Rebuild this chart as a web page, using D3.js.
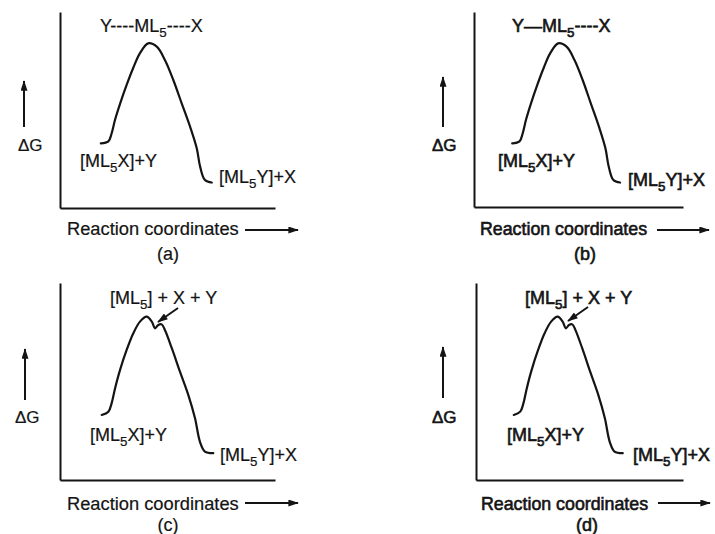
<!DOCTYPE html>
<html><head><meta charset="utf-8">
<script src="https://cdn.jsdelivr.net/npm/d3@7"></script>
<style>body{margin:0;background:#fff}svg{display:block}</style>
</head><body><svg id="chart" width="715" height="534"></svg>
<script>
// ---- data (reaction coordinate 0-100, free energy 0-100) ----
const concertedCoord  = [19, 22.5, 24, 25.6, 28, 31, 34, 37.2, 41, 45, 48.8, 52.7, 56.6, 60.5, 63.6, 65.2, 67.4, 70.6];
const concertedEnergy = [33, 34, 38, 45, 53.4, 62.8, 71.3, 79, 84, 82.3, 75.5, 65.3, 53.4, 41.5, 30.5, 21, 14.3, 13];
const stepwiseCoord   = [19.4, 22.5, 24, 25.6, 27.9, 31, 34.1, 37.2, 40.3, 42.7, 44.2, 45.7, 47.3, 48.8, 52, 55.8, 59.7, 62.8, 65.1, 67.4, 71.3];
const stepwiseEnergy  = [33, 34.7, 38.9, 46.5, 55.8, 66, 74.5, 80.4, 82.9, 80.4, 77, 78.7, 79, 76.1, 66.9, 55, 43.1, 31.3, 19.4, 14.4, 13.6];
const peakLabels      = ["Y----ML_5----X", "Y\u2014ML_5----X", "[ML_5] + X + Y", "[ML_5] + X + Y"];
const reactantLabel   = "[ML_5X]+Y";
const productLabel    = "[ML_5Y]+X";
const yAxisLabel      = "\u0394G";
const xAxisLabel      = "Reaction coordinates";
const panelTags       = ["(a)", "(b)", "(c)", "(d)"];
const curveTypes      = ["concerted", "concerted", "stepwise", "stepwise"];

// ---- layout ----
const layout = [
  {ax:60, ay:208, top:12, right:275, cx:[60,275], cy:[208,12], bold:false,
   peak:[100,32], react:[80,167], prod:[219,183], dg:[18,151], up:[24,127,81],
   rc:[67,235], arr:[245,298,230], tag:[168,260], ptr:null},
  {ax:474, ay:207, top:12, right:683, cx:[472.5,681.5], cy:[208,12], bold:true,
   peak:[512,32], react:[498,167], prod:[628,186], dg:[432,151], up:[443,127,77],
   rc:[480,235], arr:[657,709,230], tag:[585,260], ptr:null},
  {ax:60, ay:480, top:283, right:275, cx:[60,275], cy:[480,283], bold:false,
   peak:[110,304], react:[90,441], prod:[220,461], dg:[15,423], up:[25,400,349],
   rc:[67,510], arr:[245,298,503], tag:[168,531], ptr:[178,308,158,322]},
  {ax:476, ay:480, top:283, right:683, cx:[473,683], cy:[480,283], bold:true,
   peak:[525,304], react:[507,441], prod:[633,461], dg:[432,423], up:[443,398,347],
   rc:[481,510], arr:[658,710,503], tag:[587,531], ptr:[588,307,568,321]}
];

const ink = "#141414";
const svg = d3.select("#chart");
const defs = svg.append("defs");
defs.append("marker").attr("id","ah").attr("viewBox","0 0 12 8")
  .attr("refX",11).attr("refY",4).attr("markerWidth",12).attr("markerHeight",7)
  .attr("markerUnits","userSpaceOnUse").attr("orient","auto")
  .append("path").attr("d","M0,0 L12,4 L0,8 Z").attr("fill",ink);

function richText(sel, str, size){
  const parts = str.split("_5");
  parts.forEach((p,i)=>{
    if(i>0){
      sel.append("tspan").attr("font-size",size*0.74).attr("dy",5).text("5");
      sel.append("tspan").attr("dy",-5).text(p);
    } else sel.append("tspan").text(p);
  });
}

layout.forEach((L,i)=>{
  const g = svg.append("g");
  const xAxisScale = d3.scaleLinear().domain([0,100]).range([L.ax, L.right]);
  const yAxisScale = d3.scaleLinear().domain([0,100]).range([L.ay, L.top]);
  const gx = g.append("g").attr("transform",`translate(0,${L.ay})`)
    .call(d3.axisBottom(xAxisScale).tickValues([]).tickSizeOuter(0));
  const gy = g.append("g").attr("transform",`translate(${L.ax},0)`)
    .call(d3.axisLeft(yAxisScale).tickValues([]).tickSizeOuter(0));
  [gx,gy].forEach(a=>a.select(".domain").attr("stroke",ink).attr("stroke-width",2));

  const x = d3.scaleLinear().domain([0,100]).range(L.cx);
  const y = d3.scaleLinear().domain([0,100]).range(L.cy);
  const cs = curveTypes[i]==="concerted" ? concertedCoord : stepwiseCoord;
  const es = curveTypes[i]==="concerted" ? concertedEnergy : stepwiseEnergy;
  const pts = cs.map((c,k)=>[c, es[k]]);
  const line = d3.line().x(d=>x(d[0])).y(d=>y(d[1])).curve(d3.curveCatmullRom.alpha(0.5));
  g.append("path").attr("d",line(pts)).attr("fill","none").attr("stroke",ink)
    .attr("stroke-width",2.2).attr("stroke-linecap","round").attr("stroke-linejoin","round");

  const txt = (pos, str, size, anchor)=>{
    const t = g.append("text").attr("x",pos[0]).attr("y",pos[1])
      .attr("font-family","'Liberation Sans', Arial, sans-serif").attr("font-size",size)
      .attr("fill",ink).attr("text-anchor",anchor||"start")
      .attr("stroke",ink).attr("stroke-width",L.bold?0.6:0.2);
    richText(t, str, size);
    return t;
  };
  txt(L.peak, peakLabels[i], 18);
  txt(L.react, reactantLabel, 18);
  txt(L.prod, productLabel, 18);
  txt(L.dg, yAxisLabel, 17);
  txt(L.rc, xAxisLabel, L.bold ? 17.8 : 18.3);
  txt(L.tag, panelTags[i], 18, "middle");

  g.append("line").attr("x1",L.up[0]).attr("x2",L.up[0]).attr("y1",L.up[1]).attr("y2",L.up[2])
    .attr("stroke",ink).attr("stroke-width",2).attr("marker-end","url(#ah)");
  g.append("line").attr("x1",L.arr[0]).attr("x2",L.arr[1]).attr("y1",L.arr[2]).attr("y2",L.arr[2])
    .attr("stroke",ink).attr("stroke-width",2).attr("marker-end","url(#ah)");
  if(L.ptr){
    g.append("line").attr("x1",L.ptr[0]).attr("y1",L.ptr[1]).attr("x2",L.ptr[2]).attr("y2",L.ptr[3])
      .attr("stroke",ink).attr("stroke-width",2).attr("marker-end","url(#ah)");
  }
});
</script></body></html>
